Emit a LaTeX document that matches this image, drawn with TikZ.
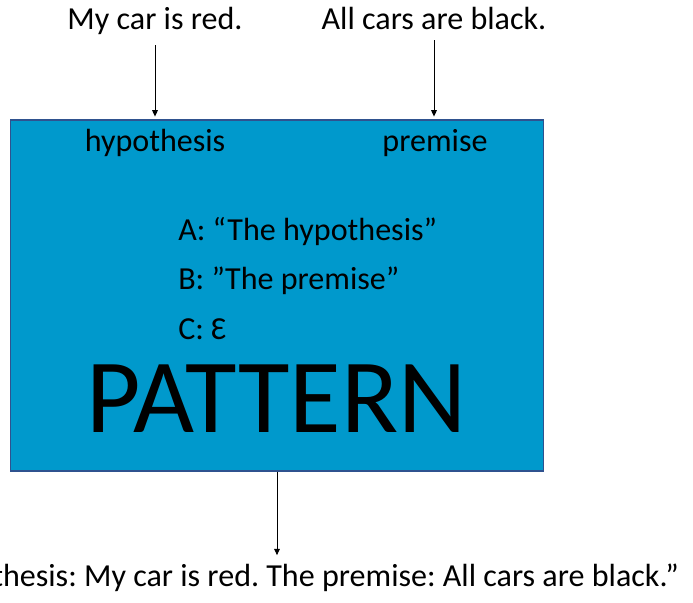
\documentclass[tikz,border=0pt]{standalone}
\usepackage{fontspec}
\setmainfont{Carlito}
\usepackage{tikz}
\usetikzlibrary{arrows.meta, positioning, calc}
\definecolor{patternblue}{RGB}{0,153,204}
\definecolor{patternedge}{RGB}{47,82,143}
\frenchspacing

\begin{document}
\begin{tikzpicture}[
        x=0.025cm, y=-0.025cm,
        txt/.style={inner sep=0pt, font=\fontsize{22.8}{27}\selectfont},
        bigtxt/.style={inner sep=0pt, font=\fontsize{75}{84}\selectfont},
        patternbox/.style={rectangle, draw=patternedge, line width=0.8pt, fill=patternblue, minimum width=13.3cm, minimum height=8.775cm},
        arrow/.style={-{Triangle[length=4.5pt,width=4pt]}, line width=0.7pt, black}
    ]
        \useasboundingbox (0,0) rectangle (693,603);

        % the pattern box
        \node[patternbox] (box) at (277,295.5) {};

        % inputs
        \node[txt, anchor=base] (mycar)  at (155,30) {My car is red.};
        \node[txt, anchor=base] (allcars) at (434,30) {All cars are black.};

        % slots
        \node[txt, anchor=base] (hyp)  at (155,152) {hypothesis};
        \node[txt, anchor=base] (prem) at (435,152) {premise};

        \node[txt, anchor=base west] (slota) at (178,241) {A: “The hypothesis”};
        \node[txt, anchor=base west] (slotb) at (178,290) {B: ”The premise”};
        \node[txt, anchor=base west] (slotc) at (178,340) {C: Ɛ};

        \node[bigtxt, anchor=base west] (pattern) at (86,433) {PATTERN};

        % output
        \node[txt, anchor=base east] (result) at (679,587) {“The hypothesis: My car is red. The premise: All cars are black.”};

        \draw[arrow, shorten <=7pt, shorten >=2pt] (mycar.south) -- (mycar.south |- box.north);
        \draw[arrow, shorten <=7pt, shorten >=2pt] (allcars.south) -- (allcars.south |- box.north);
        \draw[arrow, shorten >=6pt] (box.south) -- (box.south |- result.north);
    \end{tikzpicture}
\end{document}
